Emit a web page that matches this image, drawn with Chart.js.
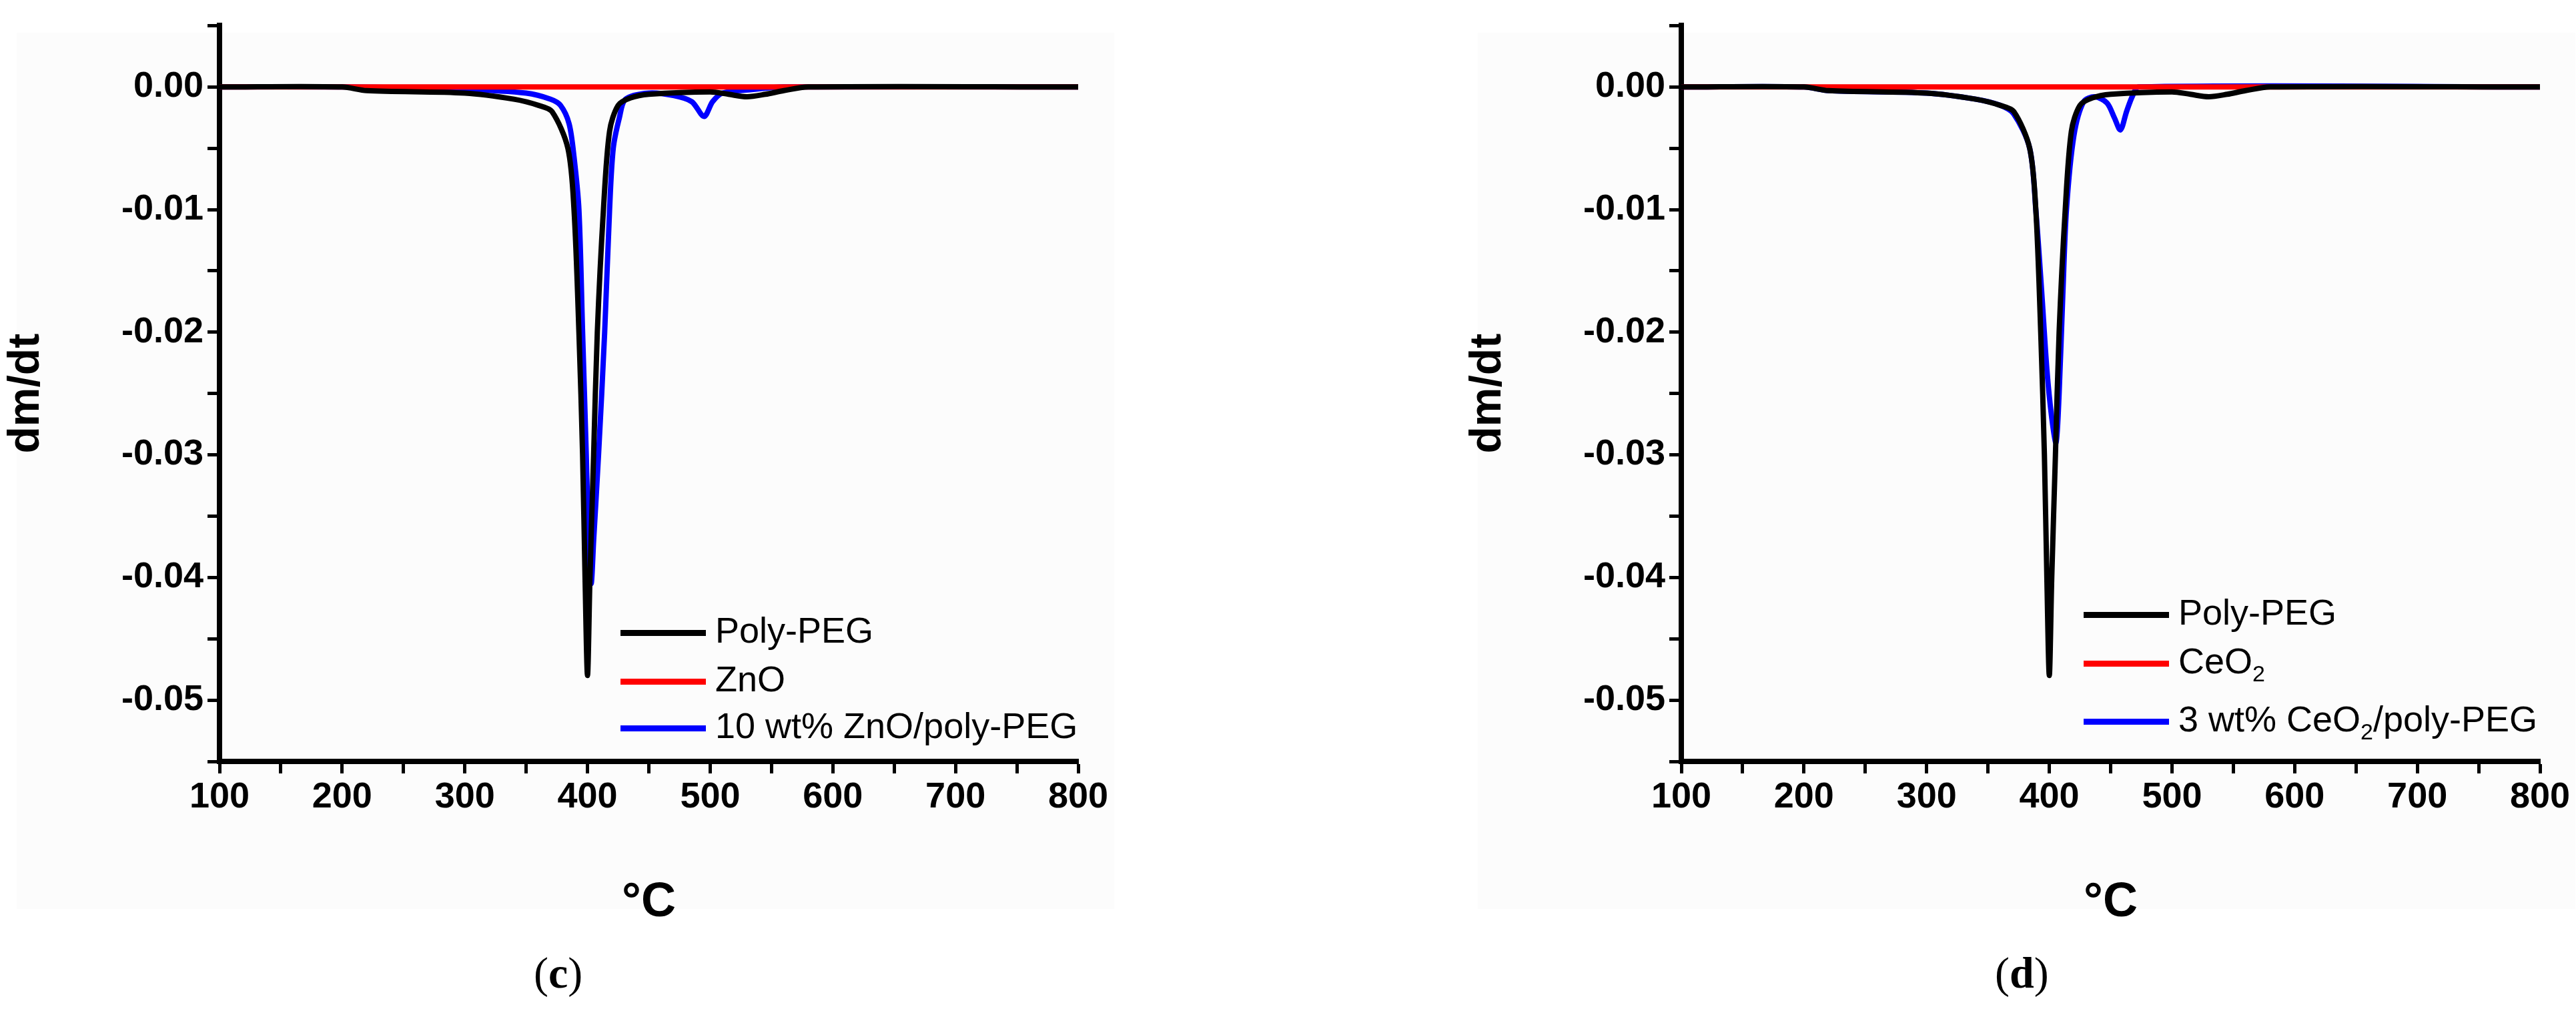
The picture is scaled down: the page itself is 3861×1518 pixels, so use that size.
<!DOCTYPE html>
<html>
<head>
<meta charset="utf-8">
<script src="https://cdn.jsdelivr.net/npm/chart.js@4/dist/chart.umd.min.js"></script>
<style>
  body { margin: 0; width: 3861px; height: 1518px; background: #fff; position: relative; overflow: hidden; font-family: "Liberation Sans", Arial, sans-serif; }
  .bg { position: absolute; background: #fcfcfc; }
  .panel { position: absolute; top: 0; height: 1400px; }
  .legend { position: absolute; font-size: 54px; color: #000; line-height: 1; }
  .legend div { position: absolute; white-space: nowrap; }
  .legend span.sw { display: inline-block; width: 128px; height: 9px; vertical-align: middle; margin-right: 14px; }
  .legend sub { font-size: 34px; }
  .cap { position: absolute; top: 1420px; font-family: "Liberation Serif", serif; font-size: 66px; }
</style>
</head>
<body>
<div class="bg" style="left:25px;top:49px;width:1645px;height:1313px"></div>
<div class="bg" style="left:2215px;top:49px;width:1645px;height:1313px"></div>
<canvas id="chartC" class="panel" style="left:0;width:1700px"></canvas>
<canvas id="chartD" class="panel" style="left:2191px;width:1670px"></canvas>

<div class="legend" style="left:930px;top:0">
  <div style="top:917px"><span class="sw" style="background:#000"></span>Poly-PEG</div>
  <div style="top:990px"><span class="sw" style="background:#f00"></span>ZnO</div>
  <div style="top:1060px"><span class="sw" style="background:#00f"></span>10 wt% ZnO/poly-PEG</div>
</div>
<div class="legend" style="left:3123px;top:0">
  <div style="top:890px"><span class="sw" style="background:#000"></span>Poly-PEG</div>
  <div style="top:963px"><span class="sw" style="background:#f00"></span>CeO<sub>2</sub></div>
  <div style="top:1050px"><span class="sw" style="background:#00f"></span>3 wt% CeO<sub>2</sub>/poly-PEG</div>
</div>
<div class="cap" style="left:800px">(<b>c</b>)</div>
<div class="cap" style="left:2990px">(<b>d</b>)</div>

<script>
// temperatures (°C) and dm/dt values
const pegT = [100, 200, 220, 300, 340, 360, 371, 384, 389, 393, 396, 398, 400, 402, 405, 408, 413, 418, 425, 435, 450, 500, 515, 530, 545, 560, 580, 800]
const pegY = [0, 0, -0.0003, -0.0005, -0.001, -0.0015, -0.002, -0.005, -0.01, -0.02, -0.03, -0.04, -0.048, -0.04, -0.03, -0.02, -0.01, -0.0036, -0.0015, -0.0009, -0.0006, -0.0004, -0.0006, -0.0008, -0.0006, -0.0003, 0, 0]

const oxideT = [100, 800]
const oxideY = [0, 0]

const znT = [100, 200, 300, 350, 370, 378, 385, 389, 393, 396, 399, 401, 403, 405, 409, 414, 418, 421, 426, 431, 450, 470, 485, 495, 502, 510, 535, 560, 800]
const znY = [0, 0, -0.0002, -0.0005, -0.001, -0.0015, -0.003, -0.0057, -0.01, -0.02, -0.03, -0.037, -0.0405, -0.037, -0.03, -0.02, -0.01, -0.005, -0.0025, -0.001, -0.0005, -0.0007, -0.0012, -0.0024, -0.0012, -0.0005, -0.0002, 0, 0]

const ceT = [100, 200, 220, 300, 340, 360, 371, 384, 389, 394, 398, 402, 405.5, 408, 411, 414, 420, 428, 437, 447, 453, 458, 463, 468, 473, 800]
const ceY = [0, 0, -0.0003, -0.0005, -0.001, -0.0015, -0.0022, -0.005, -0.01, -0.017, -0.023, -0.027, -0.029, -0.025, -0.017, -0.01, -0.004, -0.0012, -0.0008, -0.0013, -0.0025, -0.0035, -0.002, -0.0007, 0, 0]

const xTicks = [100, 200, 300, 400, 500, 600, 700, 800]
const yTicks = [0, -0.01, -0.02, -0.03, -0.04, -0.05]

function pts(xs, ys) { return xs.map((x, i) => ({ x: x, y: ys[i] })) }

function makeChart(id, blueT, blueY, rightPad) {
    const tickFont = { family: "'Liberation Sans', Arial, sans-serif", size: 54, weight: "bold" }
    new Chart(document.getElementById(id), {
        type: "line",
        data: {
            datasets: [
                { data: pts(pegT, pegY), borderColor: "#000", borderWidth: 8 },
                { data: pts(oxideT, oxideY), borderColor: "#f00", borderWidth: 8 },
                { data: pts(blueT, blueY), borderColor: "#00f", borderWidth: 8 }
            ]
        },
        options: {
            animation: false,
            responsive: false,
            maintainAspectRatio: false,
            devicePixelRatio: 1,
            elements: { point: { radius: 0 }, line: { tension: 0.3 } },
            layout: { padding: { top: 34, right: rightPad, left: 0, bottom: 0 } },
            plugins: { legend: { display: false }, tooltip: { enabled: false } },
            scales: {
                x: {
                    type: "linear", min: 100, max: 800,
                    afterBuildTicks: s => { s.ticks = [100,150,200,250,300,350,400,450,500,550,600,650,700,750,800].map(v => ({ value: v })) },
                    afterFit: s => { s.height = 259 },
                    grid: { drawOnChartArea: false, color: "#000", tickLength: 18, tickWidth: 5 },
                    border: { color: "#000", width: 8 },
                    ticks: { color: "#000", font: tickFont, padding: 4, maxRotation: 0, autoSkip: false,
                             callback: v => xTicks.includes(v) ? String(v) : "" },
                    title: { display: true, text: "°C", color: "#000", padding: { top: 40 },
                             font: { family: "'Liberation Sans', Arial, sans-serif", size: 72, weight: "bold" } }
                },
                y: {
                    type: "linear", min: -0.055, max: 0.005,
                    afterBuildTicks: s => {
                        let t = []
                        for (let i = 1; i >= -11; i--) t.push({ value: i * 0.005 })
                        s.ticks = t
                    },
                    afterFit: s => { s.width = 329 },
                    grid: { drawOnChartArea: false, color: "#000", tickLength: 18, tickWidth: 5 },
                    border: { color: "#000", width: 8 },
                    ticks: { color: "#000", font: tickFont, padding: 6, autoSkip: false,
                             callback: v => { let m = yTicks.find(t => Math.abs(t - v) < 1e-9); return m === undefined ? "" : m.toFixed(2) } },
                    title: { display: true, text: "dm/dt", color: "#000", padding: { top: 0, bottom: 0 },
                             font: { family: "'Liberation Sans', Arial, sans-serif", size: 66, weight: "bold" } }
                }
            }
        }
    })
}

document.getElementById("chartC").width = 1700
document.getElementById("chartC").height = 1400
document.getElementById("chartD").width = 1670
document.getElementById("chartD").height = 1400
makeChart("chartC", znT, znY, 84)
makeChart("chartD", ceT, ceY, 54)
</script>
</body>
</html>
